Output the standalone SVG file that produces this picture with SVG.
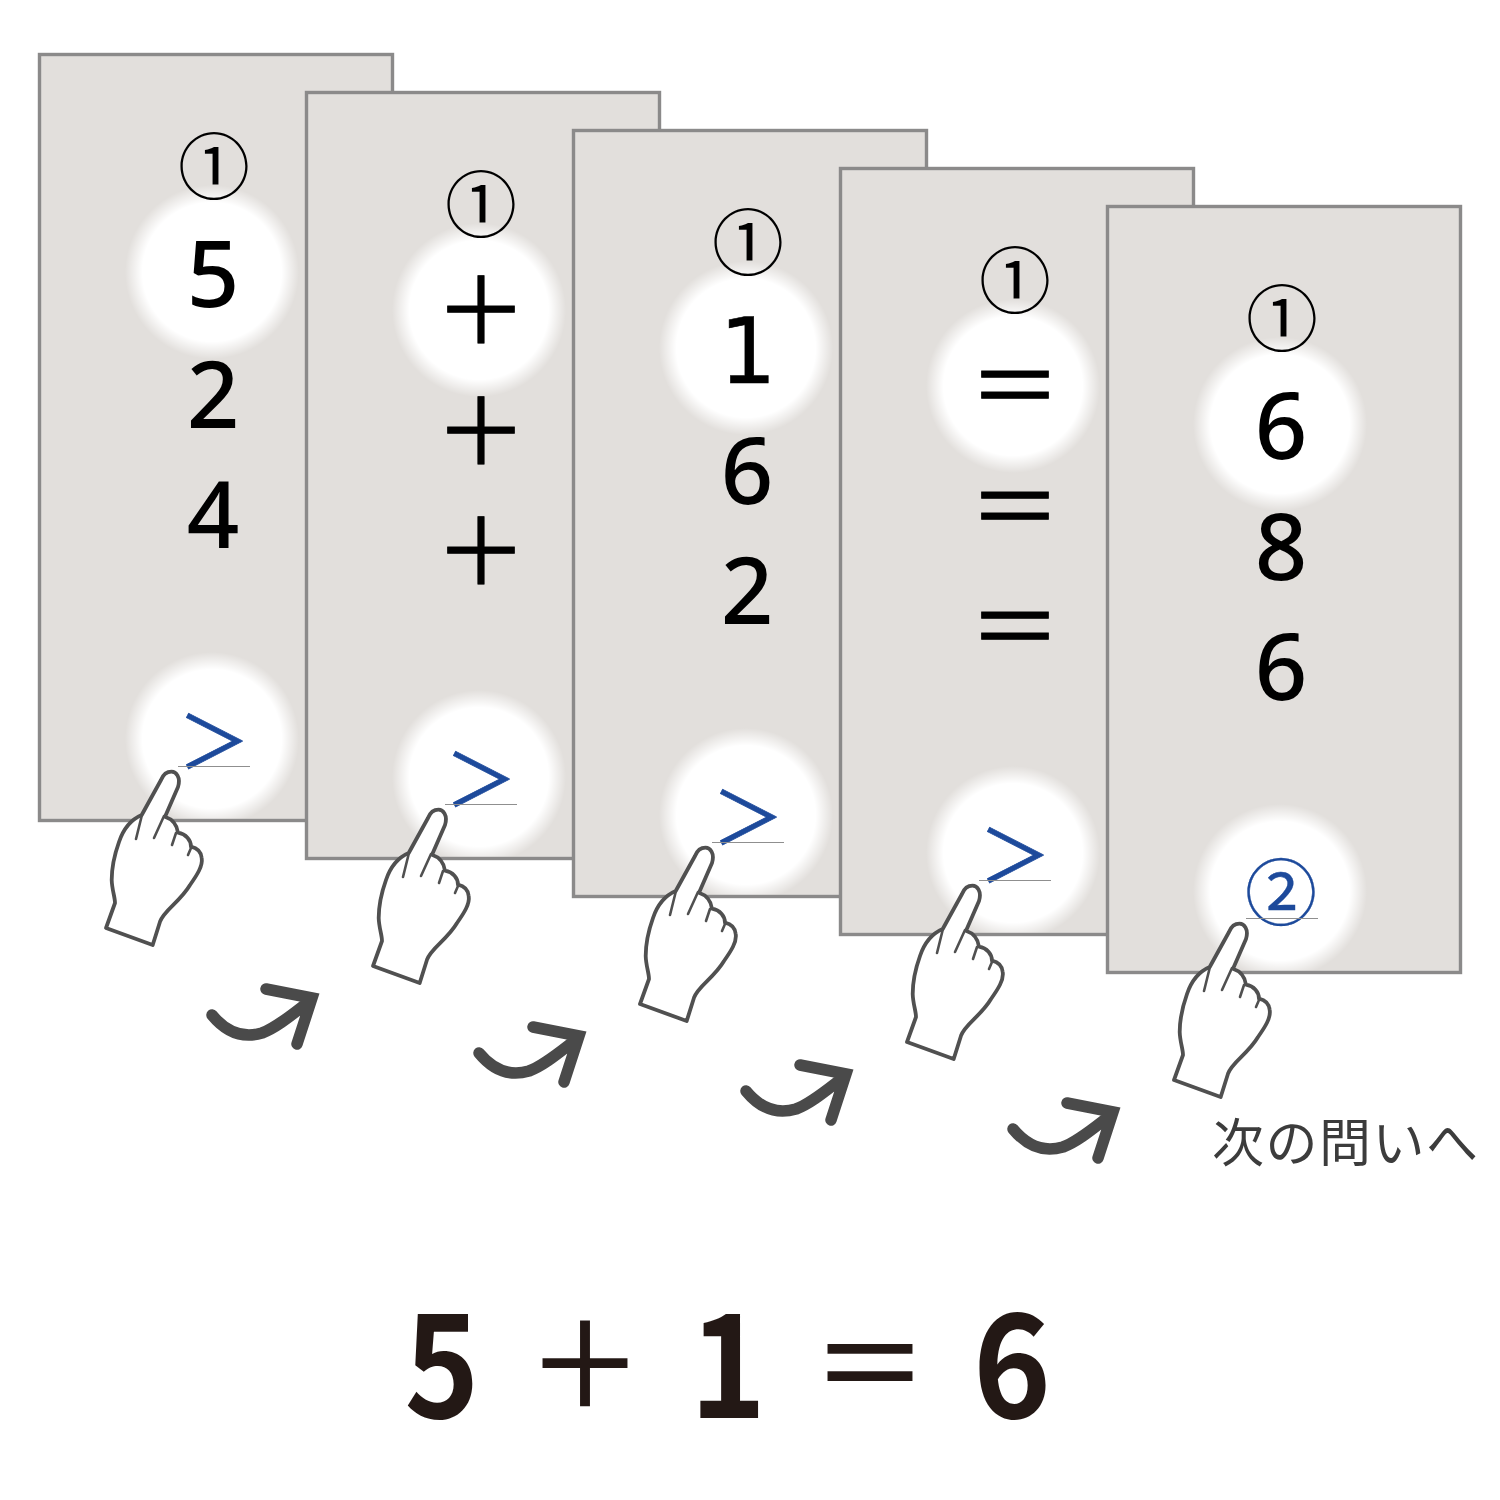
<svg xmlns="http://www.w3.org/2000/svg" width="1500" height="1500" viewBox="0 0 1500 1500">
<style>
.card{fill:#e2dfdc}
.edge{fill:none;stroke:#8b8a8a;stroke-width:3.400}
.num{font-family:"Noto Sans","Open Sans",sans-serif;font-size:92px;font-weight:500;fill:#000;text-anchor:middle}
.one{font-family:"DejaVu Sans","Noto Sans",sans-serif;font-size:90px;fill:#000;stroke:#000;stroke-width:.6;text-anchor:middle}
.sym{font-family:"Noto Sans CJK JP",sans-serif;font-size:92px;fill:#000;stroke:#000;stroke-width:.8;text-anchor:middle}
.circ{font-family:"Noto Sans CJK JP",sans-serif;font-size:72px;fill:#000;text-anchor:middle}
.btn{font-family:"Noto Sans CJK JP",sans-serif;font-size:72px;fill:#1d4a9b;stroke:#1d4a9b;stroke-width:.7;text-anchor:middle}
.ul{stroke:#8f8f8f;stroke-width:1.200;fill:none}
.hand{fill:#fff;stroke:#505050;stroke-width:3.800;stroke-linejoin:round}
.crease{fill:none;stroke:#505050;stroke-width:2.600;stroke-linecap:round}
.arr{fill:none;stroke:#4a4a4a;stroke-width:11.500;stroke-linecap:round;stroke-linejoin:miter}
.big{font-family:"Noto Sans CJK JP",sans-serif;font-weight:700;font-size:144px;fill:#231815;text-anchor:middle}
.bigsym{font-family:"Noto Sans CJK JP",sans-serif;font-weight:500;font-size:118px;fill:#231815;text-anchor:middle}
.note{font-family:"Noto Sans CJK JP",sans-serif;font-weight:400;font-size:52px;letter-spacing:1.500px;fill:#3c3c3c}
</style>
<defs>
<radialGradient id="glow"><stop offset="0" stop-color="#fff"/><stop offset=".8" stop-color="#fff"/><stop offset="1" stop-color="#fff" stop-opacity="0"/></radialGradient>
<g id="handshape">
<path class="hand" d="M106 928L152.700 945L160 921.700C164 910 180 902 190 885C197 875 203 866 201.700 858C201 852 197 848 191 846.700C191 840 186 834 178 832.700C177 825 172 819 165 816.700L178 787C181 777 176 771.700 171.500 771.700C166 771.700 163 775 161 780L141.700 815C130 820 123 830 119 842C114 856 111.700 870 111.700 880C112 890 115 897 115 903Z"/>
<path class="crease" d="M141.700 816L136 839M164 816L154 838M176 833L172 845M191 848L188 855"/>
</g>
<path id="curl" class="arr" d="M212 1015C226 1032 242 1039 262 1033C278 1027 295 1012 311 1000M266 989L312 998L297 1044"/>
</defs>

<g id="card-1">
<rect class="card" x="39.500" y="54.500" width="353" height="766"/>
<circle cx="212" cy="272" r="87" fill="url(#glow)"/><circle cx="212" cy="739" r="87" fill="url(#glow)"/>
<rect class="edge" x="39.500" y="54.500" width="353" height="766"/>
<text class="circ" x="214" y="193">①</text>
<text class="num" x="213" y="307">5</text><text class="num" x="213" y="428">2</text><text class="num" x="213" y="548">4</text>
<text class="btn" x="214" y="768">＞</text><line class="ul" x1="178" y1="766.500" x2="250" y2="766.500"/>
<use href="#handshape"/>
</g>
<g id="card-2" transform="translate(267 38)">
<rect class="card" x="39.500" y="54.500" width="353" height="766"/>
<circle cx="212" cy="272" r="87" fill="url(#glow)"/><circle cx="212" cy="739" r="87" fill="url(#glow)"/>
<rect class="edge" x="39.500" y="54.500" width="353" height="766"/>
<text class="circ" x="214" y="193">①</text>
<text class="sym" x="214" y="306">＋</text><text class="sym" x="214" y="427">＋</text><text class="sym" x="214" y="547">＋</text>
<text class="btn" x="214" y="768">＞</text><line class="ul" x1="178" y1="766.500" x2="250" y2="766.500"/>
<use href="#handshape"/>
</g>
<g id="card-3" transform="translate(534 76)">
<rect class="card" x="39.500" y="54.500" width="353" height="766"/>
<circle cx="212" cy="272" r="87" fill="url(#glow)"/><circle cx="212" cy="739" r="87" fill="url(#glow)"/>
<rect class="edge" x="39.500" y="54.500" width="353" height="766"/>
<text class="circ" x="214" y="193">①</text>
<text class="one" x="214" y="307">1</text><text class="num" x="213" y="428">6</text><text class="num" x="213" y="548">2</text>
<text class="btn" x="214" y="768">＞</text><line class="ul" x1="178" y1="766.500" x2="250" y2="766.500"/>
<use href="#handshape"/>
</g>
<g id="card-4" transform="translate(801 114)">
<rect class="card" x="39.500" y="54.500" width="353" height="766"/>
<circle cx="212" cy="272" r="87" fill="url(#glow)"/><circle cx="212" cy="739" r="87" fill="url(#glow)"/>
<rect class="edge" x="39.500" y="54.500" width="353" height="766"/>
<text class="circ" x="214" y="193">①</text>
<text class="sym" x="214" y="306">＝</text><text class="sym" x="214" y="427">＝</text><text class="sym" x="214" y="547">＝</text>
<text class="btn" x="214" y="768">＞</text><line class="ul" x1="178" y1="766.500" x2="250" y2="766.500"/>
<use href="#handshape"/>
</g>
<g id="card-5" transform="translate(1068 152)">
<rect class="card" x="39.500" y="54.500" width="353" height="766"/>
<circle cx="212" cy="272" r="87" fill="url(#glow)"/><circle cx="212" cy="739" r="87" fill="url(#glow)"/>
<rect class="edge" x="39.500" y="54.500" width="353" height="766"/>
<text class="circ" x="214" y="193">①</text>
<text class="num" x="213" y="307">6</text><text class="num" x="213" y="428">8</text><text class="num" x="213" y="548">6</text>
<text class="btn" x="213" y="767" style="stroke-width:.3">②</text><line class="ul" x1="178" y1="766.500" x2="250" y2="766.500"/>
<use href="#handshape"/>
</g>
<g id="connectors">
<use href="#curl"/>
<use href="#curl" transform="translate(267 38)"/>
<use href="#curl" transform="translate(534 76)"/>
<use href="#curl" transform="translate(801 114)"/>
</g>
<g id="next-label"><text class="note" x="1212" y="1162">次の問いへ</text></g>
<g id="equation">
<text class="big" transform="translate(442 1418) scale(.88 1)">5</text>
<text class="bigsym" x="585" y="1408">＋</text>
<text class="big" transform="translate(728 1418) scale(.9 1)">1</text>
<text class="bigsym" x="870" y="1408">＝</text>
<text class="big" transform="translate(1012 1418) scale(.92 1)">6</text>
</g>
</svg>
